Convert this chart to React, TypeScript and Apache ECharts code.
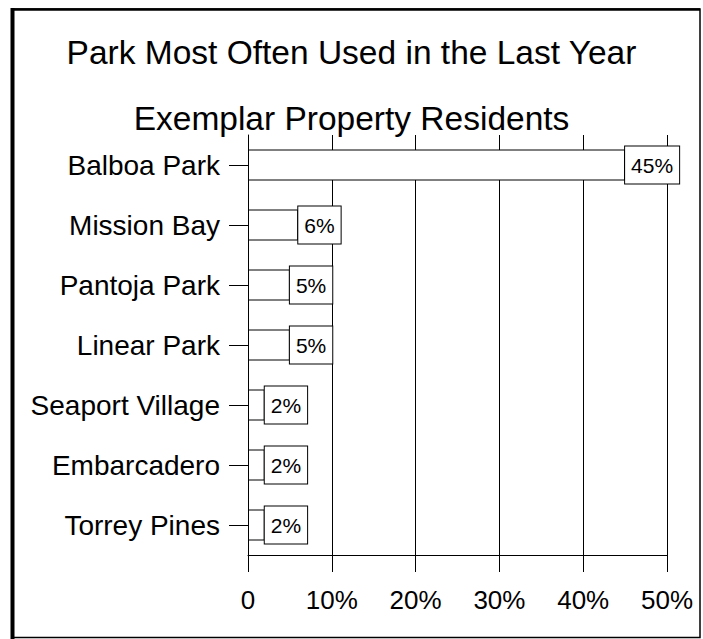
import React, { useEffect, useRef } from "react";
import * as echarts from "echarts";

const titleLine1 = "Park Most Often Used in the Last Year";
const titleLine2 = "Exemplar Property Residents";
const categories = [
  "Balboa Park",
  "Mission Bay",
  "Pantoja Park",
  "Linear Park",
  "Seaport Village",
  "Embarcadero",
  "Torrey Pines",
];
const values = [45, 6, 5, 5, 2, 2, 2];
const axisMin = 0;
const axisMax = 50;
const axisStep = 10;

const FONT = "'Liberation Sans', Arial, Helvetica, sans-serif";

export default function App() {
  const ref = useRef<HTMLDivElement>(null);
  useEffect(() => {
    if (!ref.current) return;
    document.body.style.margin = "0";
    document.body.style.overflow = "hidden";
    const chart = echarts.init(ref.current, undefined, { renderer: "svg" });
    chart.setOption({
      animation: false,
      backgroundColor: "#ffffff",
      textStyle: { fontFamily: FONT, color: "#000" },
      title: [
        {
          text: titleLine1,
          left: "center",
          top: 30,
          textStyle: { fontSize: 33.5, fontWeight: "normal", color: "#000", fontFamily: FONT },
        },
        {
          text: titleLine2,
          left: "center",
          top: 96,
          textStyle: { fontSize: 33.5, fontWeight: "normal", color: "#000", fontFamily: FONT },
        },
      ],
      graphic: [
        {
          type: "rect",
          shape: { x: 12, y: 9, width: 688, height: 628.5 },
          style: { fill: "none", stroke: "#000", lineWidth: 1.5 },
          silent: true,
        },
        {
          type: "line",
          shape: { x1: 12.5, y1: 8, x2: 12.5, y2: 639 },
          style: { stroke: "#000", lineWidth: 4 },
          silent: true,
        },
        {
          type: "line",
          shape: { x1: 11, y1: 9.5, x2: 700, y2: 9.5 },
          style: { stroke: "#000", lineWidth: 2.5 },
          silent: true,
        },
      ],
      grid: { left: 248, top: 135, width: 419, height: 420, containLabel: false },
      xAxis: {
        type: "value",
        min: axisMin,
        max: axisMax,
        interval: axisStep,
        axisLine: { show: true, lineStyle: { color: "#000", width: 1 } },
        axisTick: { show: true, length: 17, lineStyle: { color: "#000", width: 1 } },
        splitLine: { show: true, lineStyle: { color: "#000", width: 1 } },
        axisLabel: {
          margin: 32,
          fontSize: 26,
          color: "#000",
          fontFamily: FONT,
          formatter: (v: number) => (v === 0 ? "0" : v + "%"),
        },
      },
      yAxis: {
        type: "category",
        data: categories,
        inverse: true,
        axisLine: { show: true, lineStyle: { color: "#000", width: 1 } },
        axisTick: { show: true, alignWithLabel: true, length: 19, lineStyle: { color: "#000", width: 1 } },
        splitLine: { show: false },
        axisLabel: { margin: 28, fontSize: 28, color: "#000", fontFamily: FONT },
      },
      series: [
        {
          type: "bar",
          data: values,
          barWidth: 31,
          itemStyle: { color: "#fff", borderColor: "#000", borderWidth: 1 },
          label: {
            show: true,
            position: "right",
            distance: 0,
            formatter: "{c}%",
            fontSize: 21,
            color: "#000",
            fontFamily: FONT,
            backgroundColor: "#fff",
            borderColor: "#000",
            borderWidth: 1,
            padding: [8, 6, 8, 6],
          },
        },
      ],
    });
    return () => chart.dispose();
  }, []);
  return <div ref={ref} style={{ width: 703, height: 639 }} />;
}
